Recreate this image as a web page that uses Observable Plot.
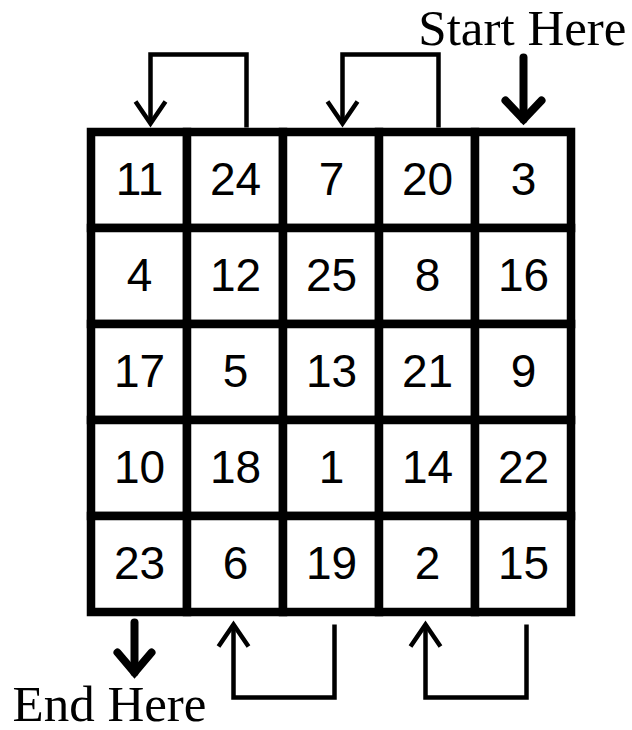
<!DOCTYPE html>
<html>
<head>
<meta charset="utf-8">
<script src="https://cdn.jsdelivr.net/npm/d3@7"></script>
<script src="https://cdn.jsdelivr.net/npm/@observablehq/plot@0.6"></script>
<style>
  html, body { margin: 0; padding: 0; background: #fff; }
  svg { display: block; }
</style>
</head>
<body>
<div id="chart"></div>
<script>
// Magic square values, row by row (top to bottom)
const squareRows = [
  [11, 24, 7, 20, 3],
  [4, 12, 25, 8, 16],
  [17, 5, 13, 21, 9],
  [10, 18, 1, 14, 22],
  [23, 6, 19, 2, 15]
];
// Wrap-around jumps [from column, to column]
const topJumps = [[1, 0], [3, 2]];
const bottomJumps = [[2, 1], [4, 3]];
const startCol = 4;
const endCol = 0;
const startLabel = "Start Here";
const endLabel = "End Here";

const U = 96; // pixels per cell
const px = (p) => p / U;

const cells = squareRows.flatMap((r, i) => r.map((v, j) => ({row: i, col: j, v})));

// Thin bracket connectors
const thin = [];
topJumps.forEach(([f, t], k) => {
  const fx = f + 0.5 + px(11), tx = t + 0.5 + px(11);
  const id = "t" + k;
  thin.push({id, x: fx, y: px(-5)}, {id, x: fx, y: px(-78)}, {id, x: tx, y: px(-78)}, {id, x: tx, y: px(-9)});
  const hid = "th" + k;
  thin.push({id: hid, x: tx - px(15), y: px(-31)}, {id: hid, x: tx, y: px(-9)}, {id: hid, x: tx + px(15), y: px(-31)});
});
bottomJumps.forEach(([f, t], k) => {
  const fx = f + 0.5 + px(3), tx = t + 0.5 - px(2);
  const id = "b" + k;
  thin.push({id, x: fx, y: 5 + px(12)}, {id, x: fx, y: 5 + px(85)}, {id, x: tx, y: 5 + px(85)}, {id, x: tx, y: 5 + px(12)});
  const hid = "bh" + k;
  thin.push({id: hid, x: tx - px(15), y: 5 + px(34)}, {id: hid, x: tx, y: 5 + px(12)}, {id: hid, x: tx + px(15), y: 5 + px(34)});
});

// Thick start / end arrows
const thick = [];
{
  const sx = startCol + 0.5;
  thick.push({id: "s", x: sx, y: px(-75)}, {id: "s", x: sx, y: px(-13)});
  thick.push({id: "sh", x: sx - px(18), y: px(-32)}, {id: "sh", x: sx, y: px(-13)}, {id: "sh", x: sx + px(18), y: px(-32)});
  const ex = endCol + 0.5 - px(5);
  thick.push({id: "e", x: ex, y: 5 + px(10)}, {id: "e", x: ex, y: 5 + px(60)});
  thick.push({id: "eh", x: ex - px(17), y: 5 + px(40)}, {id: "eh", x: ex, y: 5 + px(60)}, {id: "eh", x: ex + px(17), y: 5 + px(40)});
}

const serif = "'Liberation Serif', 'Times New Roman', serif";

const chart = Plot.plot({
  width: 632,
  height: 730,
  margin: 0,
  x: {domain: [px(-91), px(632 - 91)], range: [0, 632], axis: null},
  y: {domain: [px(-132), px(730 - 132)], range: [0, 730], axis: null},
  marks: [
    Plot.rect(cells, {
      x1: "col", x2: (d) => d.col + 1, y1: "row", y2: (d) => d.row + 1,
      fill: "white", stroke: "black", strokeWidth: 8.5, inset: 0
    }),
    Plot.text(cells, {
      x: (d) => d.col + 0.5, y: (d) => d.row + 0.5, text: (d) => String(d.v),
      fontSize: 46, fontFamily: "'Liberation Sans', Arial, Helvetica, sans-serif",
      fill: "black"
    }),
    Plot.line(thin, {
      x: "x", y: "y", z: "id", stroke: "black", strokeWidth: 4.5,
      strokeLinejoin: "miter", strokeLinecap: "butt", strokeMiterlimit: 10
    }),
    Plot.line(thick, {
      x: "x", y: "y", z: "id", stroke: "black", strokeWidth: 8,
      strokeLinejoin: "miter", strokeLinecap: "round", strokeMiterlimit: 10
    }),
    Plot.text([startLabel], {
      x: 5 + px(55), y: px(-88), text: (d) => d, textAnchor: "end",
      lineAnchor: "bottom", fontSize: 51, fontFamily: serif, fill: "black"
    }),
    Plot.text([endLabel], {
      x: px(-79), y: 5 + px(108), text: (d) => d, textAnchor: "start",
      lineAnchor: "bottom", fontSize: 51, fontFamily: serif, fill: "black"
    })
  ]
});
document.getElementById("chart").append(chart);
</script>
</body>
</html>
